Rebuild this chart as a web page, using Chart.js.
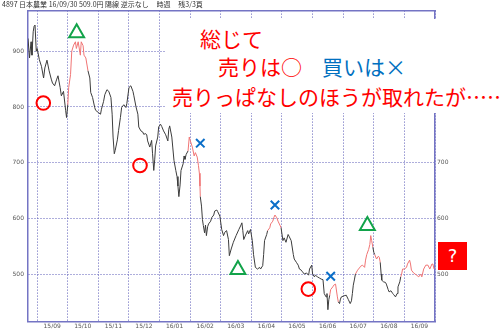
<!DOCTYPE html>
<html><head><meta charset="utf-8">
<script src="https://cdn.jsdelivr.net/npm/chart.js@4/dist/chart.umd.min.js"></script>
<style>
html,body{margin:0;padding:0;background:#fff;}
#wrap{position:relative;width:500px;height:332px;overflow:hidden;}
canvas{position:absolute;left:0;top:0;}
.hdr{position:absolute;left:2px;top:0px;font-family:"Noto Sans CJK JP";font-size:7px;line-height:8px;color:#333;white-space:nowrap;}
.note{position:absolute;left:166px;top:19px;width:334px;height:94px;background:#fff;}
.t{position:absolute;font-family:"Noto Sans CJK JP";font-size:21px;line-height:1;white-space:nowrap;}
.q{position:absolute;left:438px;top:242px;width:29px;height:28px;background:#f00;color:#fff;font-family:"DejaVu Sans";font-size:18px;text-align:center;line-height:28px;}
</style></head>
<body><div id="wrap">
<canvas id="c" width="500" height="332"></canvas>
<div class="hdr">4897 日本農業 16/09/30 509.0円 陽線 逆示なし &nbsp; &nbsp; 時週 &nbsp; &nbsp; 残3/3頁</div>
<div class="note">
  <div class="t" style="left:34px;top:9px;color:#f00;">総じて</div>
  <div class="t" style="left:52px;top:37px;color:#f00;">売りは○</div>
  <div class="t" style="left:156px;top:37px;color:#0070c0;">買いは×</div>
  <div class="t" style="left:6px;top:67px;color:#f00;">売りっぱなしのほうが取れたが……</div>
</div>
<div class="q">?</div>
</div>
<script>
// month labels (x axis), month boundaries in months since 2015/09
const months = ['15/09','15/10','15/11','15/12','16/01','16/02','16/03','16/04','16/05','16/06','16/07','16/08','16/09'];
const monthStarts = [0,1,2,3,4,5,6,7,8,9,10,11,12,13];
const priceTicks = [500,600,700,800,900];

// time in months since 2015/09/01
const t = [-0.30,-0.25,-0.20,-0.17,-0.13,-0.10,-0.07,-0.03,
0.00,0.07,0.14,0.21,0.25,0.32,0.39,0.46,0.50,0.57,0.64,0.68,0.75,0.79,0.86,0.93,0.96,
1.00,1.03,1.09,1.13,1.19,1.25,1.28,1.34,1.41,1.44,1.50,1.53,1.59,1.66,
1.72,1.75,1.81,1.88,1.91,2.00,2.07,2.10,2.17,2.21,2.28,2.34,2.41,2.45,2.48,2.52,2.55,2.62,2.66,2.72,2.76,2.83,2.90,2.93,3.00,3.06,3.13,3.16,3.23,3.29,3.32,3.39,3.45,3.48,3.55,3.58,3.61,3.68,3.74,3.77,3.81,3.84,3.87,3.94,3.97,4.03,4.07,4.13,4.20,4.27,4.30,4.33,4.40,4.43,4.47,4.53,4.57,4.60,4.63,4.67,4.70,4.77,4.80,4.83,4.87,4.93,
4.97,5.00,5.07,5.13,5.17,5.23,5.27,5.30,5.32,5.33,
5.37,5.40,5.43,5.47,5.50,5.53,5.57,5.60,5.67,5.70,5.77,5.80,5.87,5.90,5.97,6.03,6.09,6.13,6.19,6.25,6.28,6.34,6.41,6.50,6.59,6.66,6.69,6.72,6.75,6.81,6.88,6.91,6.97,7.03,7.07,7.13,7.20,7.27,7.30,7.37,7.40,7.43,7.50,7.53,
7.60,7.63,7.70,7.73,7.77,7.83,7.87,7.93,7.97,
8.03,8.07,8.13,8.20,8.23,8.30,8.37,8.40,8.47,8.53,8.57,8.63,8.67,8.73,8.80,8.87,8.90,8.97,9.00,9.06,9.09,9.16,9.22,9.28,9.34,9.38,9.44,9.47,9.50,9.53,9.56,
9.59,9.66,9.69,9.75,9.81,9.84,
9.88,9.91,9.94,10.03,10.10,10.17,10.23,10.27,10.30,10.33,10.37,10.40,
10.47,10.53,10.57,10.63,10.70,10.73,10.77,10.83,10.87,10.90,10.93,10.97,
11.00,11.03,
11.09,11.15,11.18,11.21,
11.24,11.26,11.32,11.38,11.41,11.47,11.50,11.56,11.62,11.65,11.71,11.76,11.79,11.85,11.88,
11.91,11.94,12.00,12.07,12.10,12.17,12.20,12.23,12.30,12.40,12.47,12.53,12.57,12.63,12.70,12.77,12.83,12.90,12.93,12.97];

// closing price (yen)
const price = [923,888,917,893,935,945,947,900,
905,885,873,852,870,884,865,850,843,838,850,856,835,820,828,794,781,
804,835,858,900,911,917,905,917,893,917,910,893,888,865,
852,826,817,799,794,790,787,796,810,822,831,828,817,787,746,716,722,741,758,781,799,804,799,806,835,838,828,820,800,787,764,757,755,751,752,750,739,728,740,716,686,705,730,746,764,769,765,757,750,739,760,766,746,728,704,686,675,658,639,660,686,698,712,706,715,721,
746,740,728,712,718,710,695,681,658,639,
622,598,587,574,588,569,585,590,595,601,606,613,615,612,604,580,569,575,578,562,533,545,557,569,580,588,592,578,562,570,578,572,580,560,535,512,509,512,509,515,535,560,571,578,
583,590,595,601,606,601,595,588,583,
560,565,557,571,568,560,535,527,521,516,509,507,504,500,502,498,509,516,500,495,498,495,493,491,490,465,459,465,436,454,462,
472,477,480,482,459,450,
447,455,459,461,462,454,447,452,465,480,491,500,
507,511,514,516,512,525,535,544,553,569,560,548,
539,535,
527,532,530,521,
500,489,486,485,482,472,468,470,465,463,459,465,477,486,495,
500,509,509,512,518,525,518,507,502,498,495,500,495,509,516,516,509,518,518,509];

// 1 = segment ending at this point drawn in red
const up = [0,0,0,0,0,0,0,0,
0,0,0,0,0,0,0,0,0,0,0,0,0,0,0,0,0,
0,1,1,1,1,1,1,1,1,1,1,1,1,1,
0,0,0,0,0,0,0,0,0,0,0,0,0,0,0,0,0,0,0,0,0,0,0,0,0,0,0,0,0,0,0,0,0,0,0,0,0,0,0,0,0,0,0,0,0,0,0,0,0,0,0,0,0,0,0,0,0,0,0,0,0,0,0,0,0,0,
1,1,1,1,1,1,1,1,1,1,
0,0,0,0,0,0,0,0,0,0,0,0,0,0,0,0,0,0,0,0,0,0,0,0,0,0,0,0,0,0,0,0,0,0,0,0,0,0,0,0,0,0,0,0,
1,1,1,1,1,1,1,1,1,
0,0,0,0,0,0,0,0,0,0,0,0,0,0,0,0,0,0,0,0,0,0,0,0,0,0,0,0,0,0,0,
1,1,1,1,1,1,
0,0,0,0,0,0,0,0,0,0,0,0,
1,1,1,1,1,1,1,1,1,1,1,1,
0,0,
1,1,1,1,
0,0,0,0,0,0,0,0,0,0,0,0,0,0,0,
1,1,1,1,1,1,1,1,1,1,1,1,1,1,1,1,1,1,1,1];

// annotation marks: sell (○), buy (×), top (△)
const sellT = [0.20, 3.36, 8.86];
const sellV = [807, 695, 473];
const buyT = [5.33, 7.77, 9.59];
const buyV = [735, 624, 496];
const topT = [1.29, 6.56, 10.79];
const topV = [933, 508, 587];

const RED_LINE = '#f07474', BLACK_LINE = '#3c3c3c';
const GRID = '#5c5cb8', FRAME = '#7474c4';
const pts = (xs, ys) => xs.map((x, i) => ({x, y: ys[i]}));

new Chart(document.getElementById('c'), {
  type: 'line',
  data: { datasets: [
    { data: pts(t, price), xAxisID:'x', yAxisID:'y', borderWidth: 1, pointRadius: 0, tension: 0,
      borderColor: BLACK_LINE,
      segment: { borderColor: c => up[c.p1DataIndex] ? RED_LINE : BLACK_LINE } },
    { type:'scatter', data: pts(sellT, sellV), xAxisID:'x', yAxisID:'y', pointStyle:'circle', pointRadius: 6.8,
      borderColor:'#ff0000', borderWidth: 2, backgroundColor:'rgba(0,0,0,0)' },
    { type:'scatter', data: pts(buyT, buyV), xAxisID:'x', yAxisID:'y', pointStyle:'crossRot', pointRadius: 6,
      borderColor:'#0a6ec8', borderWidth: 2, backgroundColor:'rgba(0,0,0,0)' },
    { type:'scatter', data: pts(topT, topV), xAxisID:'x', yAxisID:'y', pointStyle:'triangle', pointRadius: 8.6,
      borderColor:'#12a34a', borderWidth: 2, backgroundColor:'rgba(0,0,0,0)' }
  ]},
  options: {
    responsive: false, animation: false, devicePixelRatio: 1,
    layout: { padding: { top: 10, left: 0, right: 0, bottom: 0 } },
    plugins: { legend: { display: false }, tooltip: { enabled: false } },
    scales: {
      x: { type:'linear', position:'bottom', min: -0.3, max: 13,
        afterBuildTicks: s => { s.ticks = monthStarts.map(v => ({value: v})); },
        ticks: { autoSkip: false, maxRotation: 0, minRotation: 0, labelOffset: 15, padding: 1,
          font: { family: 'DejaVu Sans', size: 6 }, color: '#555',
          callback: (v, i) => months[i] || '' },
        grid: { color: GRID, drawTicks: false, lineWidth: 1 },
        border: { color: FRAME, width: 1.5, dash: [1, 2] },
        afterFit: s => { s.height = 7; } },
      xTop: { type:'linear', position:'top', min: -0.3, max: 13,
        ticks: { display: false }, grid: { display: false, drawTicks: false },
        border: { color: FRAME, width: 1.5 },
        afterFit: s => { s.height = 0; } },
      y: { type:'linear', position:'left', min: 415, max: 973,
        afterBuildTicks: s => { s.ticks = priceTicks.map(v => ({value: v})); },
        ticks: { padding: 4, font: { family: 'DejaVu Sans', size: 6 }, color: '#555' },
        grid: { color: GRID, drawTicks: false, lineWidth: 1 },
        border: { color: FRAME, width: 1.5, dash: [1, 2] },
        afterFit: s => { s.width = 28; } },
      y2: { type:'linear', position:'right', min: 415, max: 973,
        afterBuildTicks: s => { s.ticks = priceTicks.map(v => ({value: v})); },
        ticks: { padding: 2, font: { family: 'DejaVu Sans', size: 6 }, color: '#555' },
        grid: { display: false, drawTicks: false },
        border: { color: FRAME, width: 1.5 },
        afterFit: s => { s.width = 65; } }
    }
  }
});
</script>
</body></html>
